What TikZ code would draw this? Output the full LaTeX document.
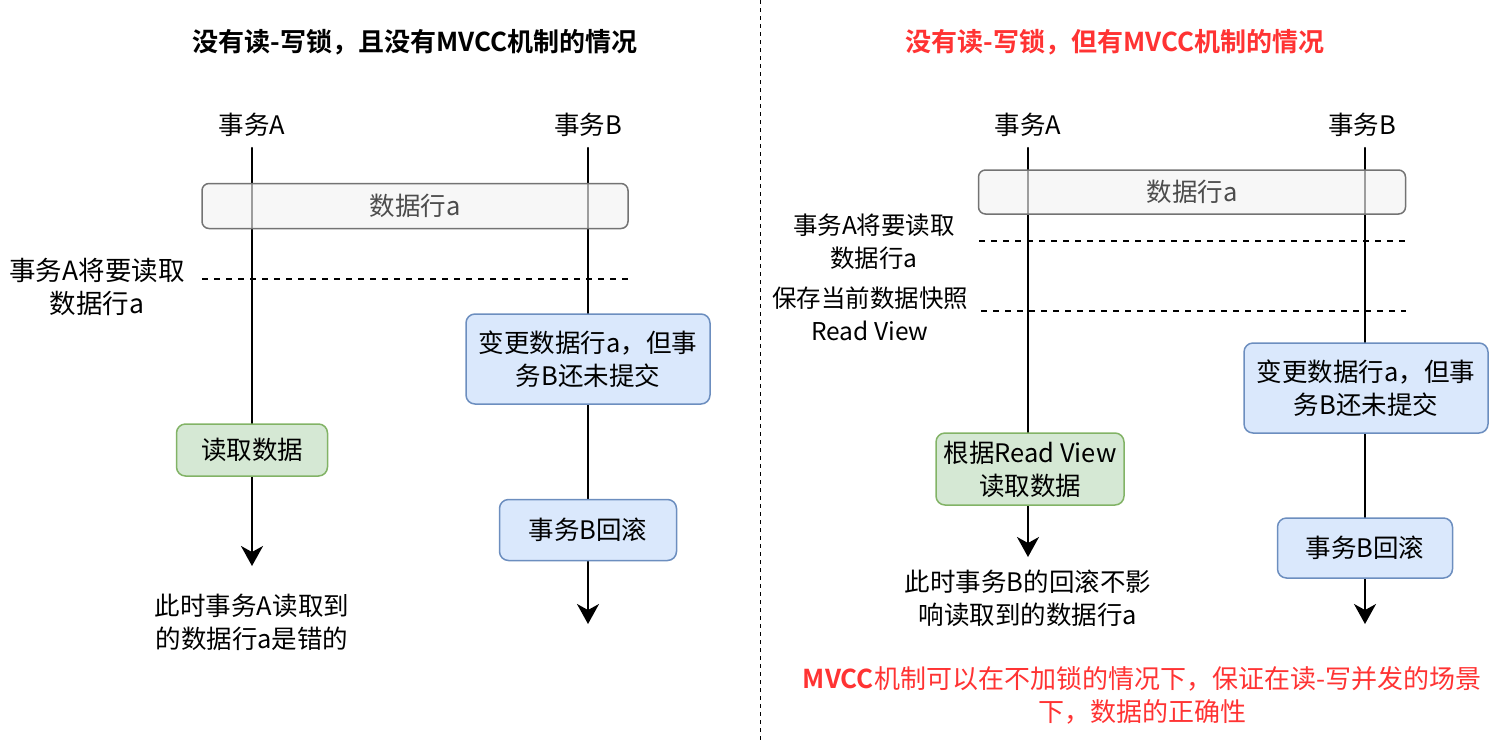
\documentclass[tikz,border=0pt]{standalone}
\usepackage{fontspec}
\setmainfont{Noto Sans CJK SC}[BoldFont={Noto Sans CJK SC Bold}]
\usetikzlibrary{arrows.meta, positioning}

\definecolor{redtxt}{RGB}{255,51,51}
\definecolor{bluefill}{HTML}{DAE8FC}
\definecolor{bluedraw}{HTML}{6C8EBF}
\definecolor{greenfill}{HTML}{D5E8D4}
\definecolor{greendraw}{HTML}{82B366}

\begin{document}
\begin{tikzpicture}[x=1pt,y=-1pt,line cap=round,line join=round,
  every node/.style={font=\fontsize{25.5}{33}\selectfont, align=center, inner sep=0pt},
  head/.style={inner ysep=11pt},
  title/.style={font=\fontsize{26}{30}\selectfont\bfseries},
  life/.style={-{Stealth[length=20pt,width=22pt,inset=6pt]}, line width=2pt},
  rowbox/.style={draw=black!55, fill=black!5, fill opacity=0.65, text opacity=1, text=black!70,
    line width=1.5pt, rounded corners=7pt, minimum height=45pt},
  stepbox/.style={draw=bluedraw, fill=bluefill, line width=1.5pt, rounded corners=9pt},
  readbox/.style={draw=greendraw, fill=greenfill, line width=1.5pt, rounded corners=9pt},
  mark line/.style={line width=1.5pt, line cap=butt, dash pattern=on 6pt off 6pt},
  side/.style={font=\fontsize{26.5}{33}\selectfont},
  sideR/.style={font=\fontsize{24.5}{33}\selectfont}]

\useasboundingbox (0,0) rectangle (1502,740);

% Divider
\coordinate (div top) at (760,0);
\coordinate (div bot) at (760,740);
\draw[line width=1pt, line cap=butt, dash pattern=on 4pt off 4pt] (div top) -- (div bot);

% Titles
\node[title] (title L) at (415,42) {没有读-写锁，且没有MVCC机制的情况};
\node[title, text=redtxt] (title R) at (1115,42) {没有读-写锁，但有MVCC机制的情况};

% Lifelines
\foreach \n/\x/\e/\label in {
  la/252/566/事务A,
  lb/588/624/事务B,
  ra/1028/557/事务A,
  rb/1365/624/事务B
} {
  \node[head] (\n) at (\x,125) {\label};
  \coordinate (\n end) at (\x,\e);
  \draw[life] (\n) -- (\n end);
}

% Left: no lock, no MVCC
\node[rowbox, minimum width=426pt] (row L) at (415,206) {数据行a};
\coordinate (mark L1) at (202,279);
\coordinate (mark L2) at (628,279);
\draw[mark line] (mark L1) -- (mark L2);
\node[side] (note L) at (97,287) {事务A将要读取\\数据行a};
\node[stepbox, minimum width=244pt, minimum height=90pt] (change L) at (588,359) {变更数据行a，但事\\务B还未提交};
\node[readbox, minimum width=151pt, minimum height=52pt] (read L) at (252,450) {读取数据};
\node[stepbox, minimum width=177pt, minimum height=61pt] (undo L) at (588,530) {事务B回滚};
\node (result L) at (252,622) {此时事务A读取到\\的数据行a是错的};

% Right: no lock, with MVCC
\node[rowbox, minimum width=427pt, minimum height=44pt] (row R) at (1192,192) {数据行a};
\coordinate (mark R1) at (979,241);
\coordinate (mark R2) at (1406,241);
\coordinate (mark R3) at (981,311);
\coordinate (mark R4) at (1406,311);
\draw[mark line] (mark R1) -- (mark R2);
\draw[mark line] (mark R3) -- (mark R4);
\node[sideR] (note R1) at (874,242) {事务A将要读取\\数据行a};
\node[sideR] (note R2) at (870,314) {保存当前数据快照\\Read View};
\node[stepbox, minimum width=244pt, minimum height=90pt] (change R) at (1366,388) {变更数据行a，但事\\务B还未提交};
\node[readbox, minimum width=188pt, minimum height=72pt] (read R) at (1030,469) {根据Read View\\读取数据};
\node[stepbox, minimum width=175pt, minimum height=60pt] (undo R) at (1365,548) {事务B回滚};
\node (result R) at (1028,598) {此时事务B的回滚不影\\响读取到的数据行a};

% Conclusion
\node[text=redtxt, font=\fontsize{26}{33}\selectfont] (sum) at (1142,695) {\textbf{MVCC}机制可以在不加锁的情况下，保证在读-写并发的场景\\下，数据的正确性};

\end{tikzpicture}
\end{document}
